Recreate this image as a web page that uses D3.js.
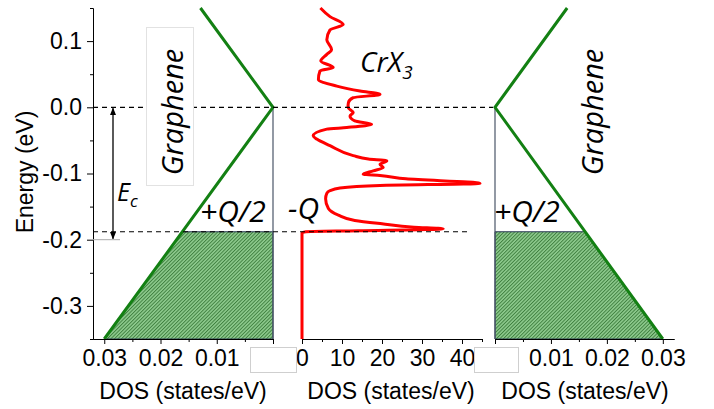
<!DOCTYPE html>
<html>
<head>
<meta charset="utf-8">
<script src="https://cdn.jsdelivr.net/npm/d3@7"></script>
<style>
  body { margin: 0; background: #fff; }
  text { font-family: "Liberation Sans", Arial, sans-serif; }
  .lbl { font-family: "Open Sans", "Noto Sans", sans-serif; font-style: italic; }
</style>
</head>
<body>
<svg></svg>
<script>
// graphene DOS (linear in |E|)
const grapheneE = [-0.35, 0, 0.15];
const grapheneDos = [0.030, 0, 0.0129];
const fermiE = -0.188;

// CrX3 DOS, top to bottom
const crxE = [0.15, 0.137, 0.125, 0.117, 0.102, 0.087, 0.08, 0.07, 0.06, 0.055, 0.042, 0.032,
  0.0245, 0.0195, 0.0145, 0.007, 0, -0.008, -0.013, -0.0206, -0.0256, -0.0305, -0.033, -0.043,
  -0.048, -0.058, -0.073, -0.078, -0.081, -0.086, -0.091, -0.096, -0.101, -0.103, -0.108, -0.115,
  -0.118, -0.122, -0.126, -0.13, -0.138, -0.153, -0.163, -0.171, -0.176, -0.181, -0.1835, -0.1865,
  -0.188, -0.19, -0.35];
const crxDos = [4.6, 7, 10.3, 7, 6.2, 7.4, 6.2, 4.7, 7.8, 4.5, 4.1, 8.7,
  14.5, 19.5, 12.8, 11.6, 11.5, 12.8, 12, 13.2, 17.4, 11.2, 6.2, 2.8,
  3.7, 7, 12.8, 16.6, 21.2, 19.5, 20.3, 17.8, 15.3, 19.5, 26, 44.5,
  19.5, 9.5, 7, 6.2, 5.9, 6.6, 9.1, 13.2, 20, 28, 35.3, 14,
  1, 0, 0];

const energyTicks = [-0.3, -0.2, -0.1, 0, 0.1];
const energyMinor = [-0.35, -0.25, -0.15, -0.05, 0.05, 0.15];
const graphTicks = [0, 0.01, 0.02, 0.03];
const graphMinor = [0.005, 0.015, 0.025];
const crxTicks = [0, 10, 20, 30, 40];
const crxMinor = [5, 15, 25, 35, 45];

const width = 714, height = 409;
const svg = d3.select("svg").attr("width", width).attr("height", height);

const y = d3.scaleLinear().domain([-0.35, 0.15]).range([339, 8]);
const xL = d3.scaleLinear().domain([0, 0.032]).range([273, 93]);
const xM = d3.scaleLinear().domain([0, 45]).range([302, 482]);
const xR = d3.scaleLinear().domain([0, 0.032]).range([495, 674]);
const yBottom = y(-0.35);

// hatch pattern for the filled states
const defs = svg.append("defs");
const pat = defs.append("pattern")
  .attr("id", "hatch").attr("patternUnits", "userSpaceOnUse")
  .attr("width", 2.5).attr("height", 2.5).attr("patternTransform", "rotate(45)");
pat.append("rect").attr("width", 2.5).attr("height", 2.5).attr("fill", "#8fcc8f");
pat.append("line").attr("x1", 0.5).attr("y1", 0).attr("x2", 0.5).attr("y2", 2.5)
  .attr("stroke", "#3a7a3a").attr("stroke-width", 0.9);

defs.append("marker").attr("id", "arr").attr("viewBox", "0 0 10 10")
  .attr("refX", 9).attr("refY", 5).attr("markerWidth", 6).attr("markerHeight", 6)
  .attr("orient", "auto-start-reverse")
  .append("path").attr("d", "M0,1 L10,5 L0,9 Z").attr("fill", "#000");

const fmt2 = d => d === 0 ? "0" : d.toFixed(2);

// --- graphene panels ---
const graphene = grapheneE.map((e, i) => ({e: e, d: grapheneDos[i]}));
const dosAt = e => d3.scaleLinear().domain(grapheneE).range(grapheneDos)(e);
const filled = [{e: -0.35, d: dosAt(-0.35)}, {e: fermiE, d: dosAt(fermiE)}];

[xL, xR].forEach(xs => {
  svg.append("path")
    .datum(filled)
    .attr("d", d3.area().y(p => y(p.e)).x0(xs(0)).x1(p => xs(p.d)))
    .attr("fill", "url(#hatch)")
    .attr("stroke", "#2b3a55").attr("stroke-width", 1);

  svg.append("line")
    .attr("x1", xs(0)).attr("x2", xs(0)).attr("y1", y(0)).attr("y2", yBottom)
    .attr("stroke", "#4a5568").attr("stroke-width", 1.2);

  svg.append("path")
    .datum(graphene)
    .attr("d", d3.line().x(p => xs(p.d)).y(p => y(p.e)))
    .attr("fill", "none").attr("stroke", "#138013").attr("stroke-width", 3);
});

// --- CrX3 panel ---
const crx = crxE.map((e, i) => ({e: e, d: crxDos[i]}));
svg.append("path")
  .datum(crx)
  .attr("d", d3.line().x(p => xM(p.d)).y(p => y(p.e)).curve(d3.curveMonotoneY))
  .attr("fill", "none").attr("stroke", "#ff0000").attr("stroke-width", 3);

// dashed reference levels
svg.append("line").attr("x1", 93).attr("x2", 493).attr("y1", y(0)).attr("y2", y(0))
  .attr("stroke", "#000").attr("stroke-width", 1.2).attr("stroke-dasharray", "5,4");
svg.append("line").attr("x1", 93).attr("x2", 468).attr("y1", y(fermiE)).attr("y2", y(fermiE))
  .attr("stroke", "#000").attr("stroke-width", 1.2).attr("stroke-dasharray", "5,4");

// --- axes ---
function styleAxis(g) {
  g.selectAll("path,line").attr("stroke", "#000").attr("stroke-width", 1);
  g.selectAll("text").attr("font-size", 23).attr("fill", "#000")
    .attr("font-family", "'Liberation Sans', Arial, sans-serif");
}

svg.append("g").attr("transform", "translate(93,0)")
  .call(d3.axisLeft(y).tickValues(energyTicks).tickFormat(d => d.toFixed(1))
    .tickSize(6).tickPadding(5).tickSizeOuter(0))
  .call(styleAxis);
svg.append("g").attr("transform", "translate(93,0)")
  .call(d3.axisLeft(y).tickValues(energyMinor).tickFormat("").tickSize(3).tickSizeOuter(0))
  .call(styleAxis);

[[xL, graphTicks, graphMinor, fmt2], [xM, crxTicks, crxMinor, d3.format("d")],
 [xR, graphTicks, graphMinor, fmt2]].forEach(([xs, tv, mv, f]) => {
  svg.append("g").attr("transform", `translate(0,${yBottom})`)
    .call(d3.axisBottom(xs).tickValues(tv).tickFormat(f).tickSize(5).tickPadding(6).tickSizeOuter(0))
    .call(styleAxis);
  svg.append("g").attr("transform", `translate(0,${yBottom})`)
    .call(d3.axisBottom(xs).tickValues(mv).tickFormat("").tickSize(3).tickSizeOuter(0))
    .call(styleAxis);
});

// boxes hiding the zero labels
svg.append("rect").attr("x", 250.5).attr("y", 347.5).attr("width", 46).attr("height", 25)
  .attr("fill", "#fff").attr("stroke", "#cfcfcf");
svg.append("rect").attr("x", 474.5).attr("y", 347.5).attr("width", 44).attr("height", 25)
  .attr("fill", "#fff").attr("stroke", "#cfcfcf");

// axis titles
svg.append("text").attr("transform", "translate(33,172) rotate(-90)")
  .attr("text-anchor", "middle").attr("font-size", 23).text("Energy (eV)");
[[xL, 183], [xM, 391], [xR, 585]].forEach(([xs, cx]) => {
  svg.append("text").attr("x", cx).attr("y", 399)
    .attr("text-anchor", "middle").attr("font-size", 23).text("DOS (states/eV)");
});

// Ec arrow
svg.append("line").attr("x1", 93).attr("x2", 120).attr("y1", y(-0.2)).attr("y2", y(-0.2))
  .attr("stroke", "#aaa").attr("stroke-width", 1);
svg.append("line").attr("x1", 113).attr("x2", 113).attr("y1", y(0) + 1).attr("y2", y(-0.2) - 1)
  .attr("stroke", "#000").attr("stroke-width", 1.3)
  .attr("marker-start", "url(#arr)").attr("marker-end", "url(#arr)");
const ec = svg.append("text").attr("class", "lbl").attr("x", 117).attr("y", 201).attr("font-size", 25);
ec.append("tspan").text("E");
ec.append("tspan").attr("font-size", 17).attr("dy", 6).text("c");

// labels
svg.append("rect").attr("x", 146.5).attr("y", 27.5).attr("width", 47).attr("height", 158)
  .attr("fill", "#fff").attr("stroke", "#e2e2e2");
svg.append("text").attr("class", "lbl").attr("transform", "translate(183,112) rotate(-90)")
  .attr("text-anchor", "middle").attr("font-size", 29).text("Graphene");
svg.append("text").attr("class", "lbl").attr("transform", "translate(603,112) rotate(-90)")
  .attr("text-anchor", "middle").attr("font-size", 29).text("Graphene");

const cr = svg.append("text").attr("class", "lbl").attr("x", 360).attr("y", 72).attr("font-size", 28);
cr.append("tspan").text("CrX");
cr.append("tspan").attr("font-size", 19).attr("dy", 7).text("3");

svg.append("text").attr("class", "lbl").attr("x", 200).attr("y", 222).attr("font-size", 30).text("+Q/2");
svg.append("text").attr("class", "lbl").attr("x", 494).attr("y", 222).attr("font-size", 30).text("+Q/2");
svg.append("text").attr("class", "lbl").attr("x", 288).attr("y", 219).attr("font-size", 30).text("-Q");
</script>
</body>
</html>
